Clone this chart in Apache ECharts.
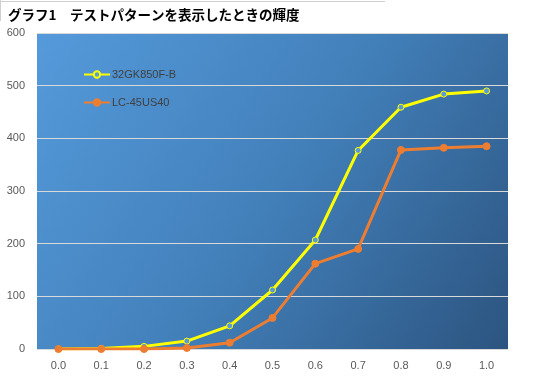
<!DOCTYPE html>
<html><head><meta charset="utf-8">
<script src="https://cdn.jsdelivr.net/npm/echarts@6/dist/echarts.min.js"></script>
<style>html,body{margin:0;padding:0;background:#fff}#c{width:533px;height:385px}</style>
</head><body><div id="c"></div>
<script>
const categories = ['0.0','0.1','0.2','0.3','0.4','0.5','0.6','0.7','0.8','0.9','1.0'];
const seriesA = [0, 1, 5, 15, 44, 112, 207, 377, 459, 484, 490];
const seriesB = [0, 0, 0, 2, 12, 59, 162, 190, 378, 382, 385];
const nameA = '32GK850F-B';
const nameB = 'LC-45US40';
const titleText = 'グラフ1　テストパターンを表示したときの輝度';

const chart = echarts.init(document.getElementById('c'));
chart.setOption({
  animation: false,
  backgroundColor: '#fff',
  title: {text: titleText, left: 3, top: 3,
    textStyle: {fontFamily: 'Noto Sans CJK JP', fontWeight: 'bold', fontSize: 13.5, color: '#000'}},
  graphic: [
    {type: 'line', shape: {x1: 0, y1: 1.5, x2: 385, y2: 1.5}, style: {stroke: '#d0d0d0', lineWidth: 1}},
    {type: 'line', shape: {x1: 0.5, y1: 0, x2: 0.5, y2: 21}, style: {stroke: '#d0d0d0', lineWidth: 1}}
  ],
  grid: {left: 37, right: 25, top: 33, bottom: 36,
    show: true, borderWidth: 0,
    backgroundColor: new echarts.graphic.LinearGradient(0, 0, 1, 1, [
      {offset: 0, color: '#559ADB'},
      {offset: 0.5, color: '#4280BA'},
      {offset: 1, color: '#2C5480'}
    ])},
  legend: {orient: 'vertical', left: 78, top: 64, itemGap: 17, itemWidth: 26, itemHeight: 8,
    textStyle: {color: '#404040', fontSize: 11, fontFamily: 'Liberation Sans', padding: [0, 0, 0, -3]},
    data: [nameA, nameB]},
  xAxis: {type: 'category', data: categories, boundaryGap: true,
    axisLine: {show: false}, axisTick: {show: false},
    axisLabel: {color: '#595959', fontSize: 11, margin: 11, fontFamily: 'Liberation Sans'}},
  yAxis: {type: 'value', min: 0, max: 600, interval: 100,
    axisLine: {show: false}, axisTick: {show: false},
    splitLine: {lineStyle: {color: '#d9d9d9', width: 1}},
    axisLabel: {color: '#595959', fontSize: 11, margin: 12, fontFamily: 'Liberation Sans'}},
  series: [
    {name: nameA, type: 'line', data: seriesA, symbol: 'circle', symbolSize: 6,
      lineStyle: {color: '#FFFF00', width: 3},
      itemStyle: {color: '#5B9BD5', borderColor: '#FFFF00', borderWidth: 1}},
    {name: nameB, type: 'line', data: seriesB, symbol: 'circle', symbolSize: 7,
      lineStyle: {color: '#ED7D31', width: 3},
      itemStyle: {color: '#ED7D31', borderColor: '#ED7D31', borderWidth: 1}}
  ]
});
</script></body></html>
